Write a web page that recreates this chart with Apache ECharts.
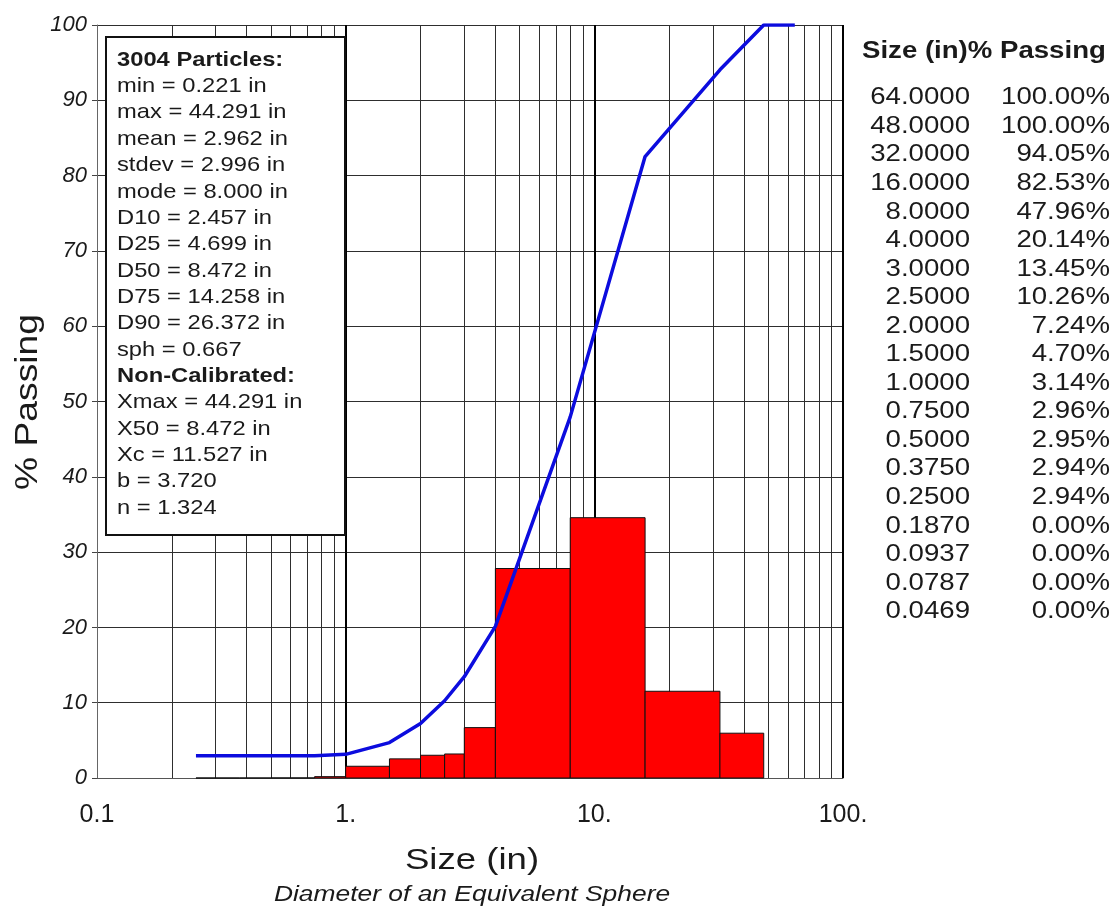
<!DOCTYPE html>
<html>
<head>
<meta charset="utf-8">
<title>Particle size distribution</title>
<script src="https://cdn.jsdelivr.net/npm/echarts@6/dist/echarts.min.js"></script>
<style>
html, body { margin: 0; padding: 0; background: #fff; }
#chart { width: 1115px; height: 907px; }
</style>
</head>
<body>
<div id="chart"></div>
<script>
// table on the right, coarse to fine
var tableSizes = [64, 48, 32, 16, 8, 4, 3, 2.5, 2, 1.5, 1, 0.75, 0.5, 0.375, 0.25, 0.187, 0.0937, 0.0787, 0.0469];
var tablePassing = [100, 100, 94.05, 82.53, 47.96, 20.14, 13.45, 10.26, 7.24, 4.70, 3.14, 2.96, 2.95, 2.94, 2.94, 0, 0, 0, 0];

// histogram bins (edges in inches, height in %)
var binEdges = [0.25, 0.375, 0.5, 0.75, 1, 1.5, 2, 2.5, 3, 4, 8, 16, 32, 48];
var binHeights = [0, 0, 0.01, 0.18, 1.56, 2.54, 3.02, 3.19, 6.69, 27.82, 34.57, 11.52, 5.95];

// cumulative passing curve
var curveSizes = [0.25, 0.375, 0.5, 0.75, 1, 1.5, 2, 2.5, 3, 4, 8, 16, 32, 48, 64];
var curvePassing = [2.94, 2.94, 2.95, 2.96, 3.14, 4.70, 7.24, 10.26, 13.45, 20.14, 47.96, 82.53, 94.05, 100, 100];

// x axis ticks and log grid
var xTickValues = [0.1, 1, 10, 100];
var xTickLabels = ["0.1", "1.", "10.", "100."];
var minorGrid = [0.2, 0.3, 0.4, 0.5, 0.6, 0.7, 0.8, 0.9, 2, 3, 4, 5, 6, 7, 8, 9, 20, 30, 40, 50, 60, 70, 80, 90];
var majorGrid = [1, 10, 100];

var statLines = [
    "3004 Particles:", "min = 0.221 in", "max = 44.291 in", "mean = 2.962 in",
    "stdev = 2.996 in", "mode = 8.000 in", "D10 = 2.457 in", "D25 = 4.699 in",
    "D50 = 8.472 in", "D75 = 14.258 in", "D90 = 26.372 in", "sph = 0.667",
    "Non-Calibrated:", "Xmax = 44.291 in", "X50 = 8.472 in", "Xc = 11.527 in",
    "b = 3.720", "n = 1.324"
];
var statBold = [0, 12];

var FONT = '"Liberation Sans", Arial, sans-serif';
var INK = "#1a1a1a";

var chart = echarts.init(document.getElementById("chart"));

function txt(x, y, text, font, align, sx, extra) {
    var el = {
        type: "text",
        x: x,
        y: y,
        scaleX: sx,
        z: 101,
        style: {
            text: text,
            font: font,
            fill: INK,
            align: align,
            textAlign: align,
            verticalAlign: "middle",
            textVerticalAlign: "middle"
        }
    };
    if (extra) echarts.util.extend(el, extra);
    return el;
}

var graphics = [];

// stats box
graphics.push({
    type: "rect",
    z: 100,
    shape: { x: 106, y: 37, width: 239, height: 498 },
    style: { fill: "#fff", stroke: "#111", lineWidth: 2 }
});
statLines.forEach(function (s, i) {
    var bold = statBold.indexOf(i) >= 0;
    graphics.push(txt(117, 60 + i * 26.35, s, (bold ? "bold " : "") + "21px " + FONT, "left", 1.13));
});

// table
graphics.push(txt(862, 52, "Size (in)% Passing", "bold 23px " + FONT, "left", 1.2));
tableSizes.forEach(function (v, i) {
    var y = 98 + i * 28.55;
    graphics.push(txt(970, y, v.toFixed(4), "23px " + FONT, "right", 1.2));
    graphics.push(txt(1110, y, tablePassing[i].toFixed(2) + "%", "23px " + FONT, "right", 1.2));
});

// axis titles
graphics.push(txt(28, 402, "% Passing", "31px " + FONT, "center", 1.2, { rotation: Math.PI / 2 }));
graphics.push(txt(472, 861, "Size (in)", "30px " + FONT, "center", 1.22));
graphics.push(txt(472, 895, "Diameter of an Equivalent Sphere", "italic 22px " + FONT, "center", 1.2));

var gridLines = minorGrid.map(function (v) {
    return { xAxis: v, lineStyle: { color: "#2e2e2e", width: 1, type: "solid" } };
}).concat(majorGrid.map(function (v) {
    return { xAxis: v, lineStyle: { color: "#000", width: 2, type: "solid" } };
}));

var bins = binHeights.map(function (h, i) {
    return [binEdges[i], binEdges[i + 1], h];
});

var curve = curveSizes.map(function (s, i) {
    return [s, curvePassing[i]];
});

var option = {
    animation: false,
    backgroundColor: "#fff",
    grid: { left: 97, right: 272, top: 25, bottom: 129 },
    xAxis: {
        type: "log",
        logBase: 10,
        min: 0.1,
        max: 100,
        axisLine: { show: true, lineStyle: { color: "#555", width: 1 } },
        axisTick: { show: false },
        splitLine: { show: false },
        axisLabel: {
            margin: 25,
            fontSize: 25,
            fontFamily: FONT,
            color: INK,
            formatter: function (v) {
                for (var i = 0; i < xTickValues.length; i++) {
                    if (Math.abs(v - xTickValues[i]) < 1e-6 * xTickValues[i]) return xTickLabels[i];
                }
                return "";
            }
        }
    },
    yAxis: {
        type: "value",
        min: 0,
        max: 100,
        interval: 10,
        axisLine: { show: true, lineStyle: { color: "#666", width: 1 } },
        axisTick: { show: true, length: 5, lineStyle: { color: "#444" } },
        splitLine: { show: true, lineStyle: { color: "#2e2e2e", width: 1 } },
        axisLabel: {
            margin: 10,
            fontSize: 22,
            fontStyle: "italic",
            fontFamily: FONT,
            color: INK
        }
    },
    series: [
        {
            name: "grid",
            type: "line",
            data: [],
            z: 1,
            silent: true,
            markLine: {
                z: 1,
                silent: true,
                symbol: "none",
                label: { show: false },
                animation: false,
                data: gridLines
            }
        },
        {
            name: "Retained",
            type: "custom",
            z: 3,
            encode: { x: [0, 1], y: 2 },
            data: bins,
            renderItem: function (params, api) {
                var p0 = api.coord([api.value(0), api.value(2)]);
                var p1 = api.coord([api.value(1), 0]);
                return {
                    type: "rect",
                    shape: { x: p0[0], y: p0[1], width: p1[0] - p0[0], height: p1[1] - p0[1] },
                    style: { fill: "#ff0000", stroke: "#111", lineWidth: 1 }
                };
            }
        },
        {
            name: "% Passing",
            type: "line",
            z: 5,
            data: curve,
            symbol: "none",
            lineStyle: { color: "#0c0cde", width: 3.5 }
        }
    ],
    graphic: graphics
};

chart.setOption(option);
window.addEventListener("resize", chart.resize);
</script>
</body>
</html>
